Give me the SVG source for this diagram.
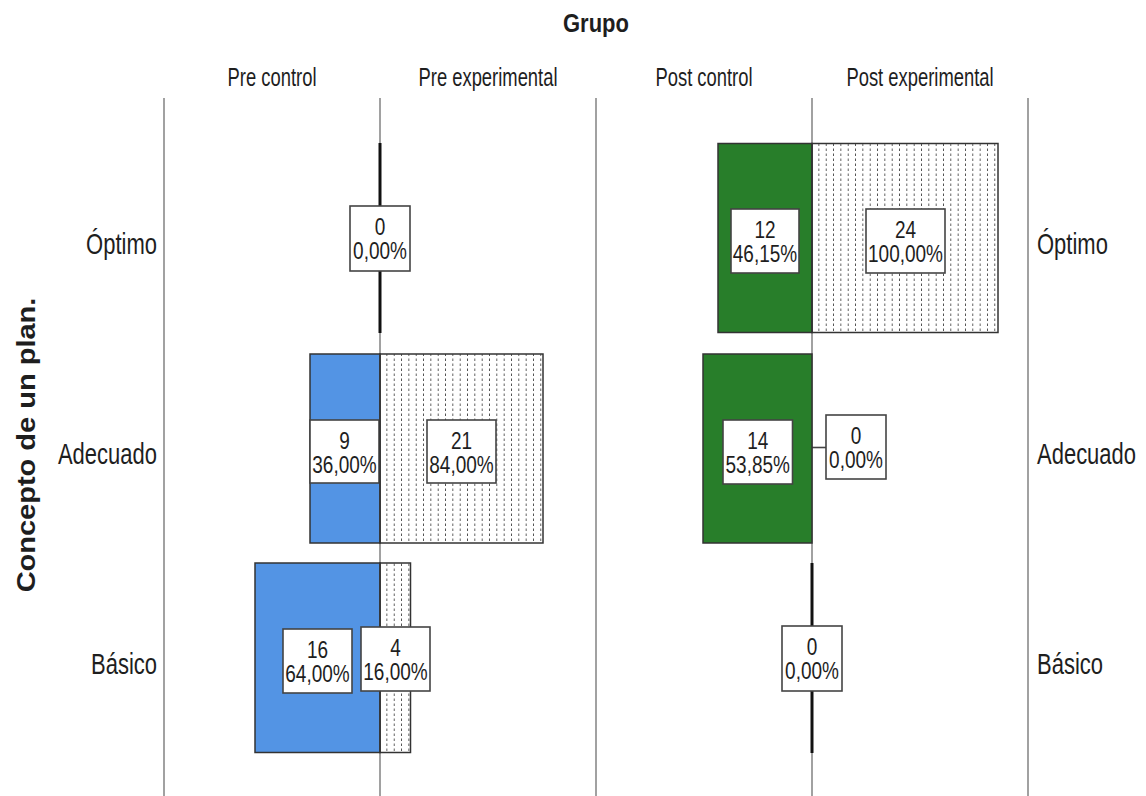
<svg xmlns="http://www.w3.org/2000/svg" width="1146" height="796" viewBox="0 0 1146 796">
<defs>
<pattern id="dotsPre" patternUnits="userSpaceOnUse" x="380" y="143" width="7.33" height="5">
<line x1="7" y1="0.5" x2="7" y2="3" stroke="#4a4a4a" stroke-width="1.1"/>
</pattern>
<pattern id="dotsPost" patternUnits="userSpaceOnUse" x="812" y="143" width="7.33" height="5">
<line x1="7" y1="0.5" x2="7" y2="3" stroke="#4a4a4a" stroke-width="1.1"/>
</pattern>
<style>
.t{font-family:"Liberation Sans",Arial,sans-serif;fill:#1e1e1e}
.n{font-size:19px;text-anchor:middle}
.h{font-size:18.4px;text-anchor:middle}
.r{font-size:22px}
.b{font-weight:bold}
.grid{stroke:#8a8a8a;stroke-width:1.6}
.bar{stroke:#333;stroke-width:1.5}
.blue{fill:#5394E4}
.green{fill:#287E2A}
.box{fill:#fff;stroke:#444;stroke-width:1.6}
.zero{stroke:#111;stroke-width:3}
</style>
</defs>
<rect width="1146" height="796" fill="#fff"/>
<g id="grid">
<line class="grid" x1="164" y1="98" x2="164" y2="796"/>
<line class="grid" x1="380" y1="98" x2="380" y2="796"/>
<line class="grid" x1="596" y1="98" x2="596" y2="796"/>
<line class="grid" x1="812" y1="98" x2="812" y2="796"/>
<line class="grid" x1="1028" y1="98" x2="1028" y2="796"/>
</g>
<g id="titles">
<text class="t b" font-size="22" text-anchor="middle" transform="translate(596,32) scale(1,1.2)">Grupo</text>
<text class="t b" font-size="25" text-anchor="middle" transform="translate(35,445) rotate(-90) scale(1.16,1)">Concepto de un plan.</text>
</g>
<g id="headers">
<text class="t h" transform="translate(272,86) scale(1,1.36)">Pre control</text>
<text class="t h" transform="translate(488,86) scale(1,1.36)">Pre experimental</text>
<text class="t h" transform="translate(704,86) scale(1,1.36)">Post control</text>
<text class="t h" transform="translate(920,86) scale(1,1.36)">Post experimental</text>
</g>
<g id="row-labels">
<text class="t r" text-anchor="end" transform="translate(157,253.5) scale(1,1.33)">Óptimo</text>
<text class="t r" text-anchor="end" transform="translate(157,464) scale(1,1.33)">Adecuado</text>
<text class="t r" text-anchor="end" transform="translate(157,673.5) scale(1,1.33)">Básico</text>
<text class="t r" transform="translate(1037,253.5) scale(1,1.33)">Óptimo</text>
<text class="t r" transform="translate(1037,464) scale(1,1.33)">Adecuado</text>
<text class="t r" transform="translate(1037,673.5) scale(1,1.33)">Básico</text>
</g>
<g id="connectors">
<line class="zero" x1="380" y1="143" x2="380" y2="333"/>
<line class="zero" x1="812" y1="563" x2="812" y2="753"/>
<line x1="812" y1="447.5" x2="826" y2="447.5" stroke="#444" stroke-width="1.6"/>
</g>
<g id="pre-optimo">
<rect class="box" x="350" y="206" width="60" height="65"/>
<text class="t n" transform="translate(380,235) scale(1,1.3)">0</text>
<text class="t n" transform="translate(380,258.5) scale(1,1.3)">0,00%</text>
</g>
<g id="pre-control-adecuado">
<rect class="bar blue" x="310" y="354" width="70" height="189"/>
<rect class="box" x="310" y="420" width="69" height="63"/>
<text class="t n" transform="translate(344.5,449) scale(1,1.3)">9</text>
<text class="t n" transform="translate(344.5,472.5) scale(1,1.3)">36,00%</text>
</g>
<g id="pre-exp-adecuado">
<rect class="bar" fill="url(#dotsPre)" x="380" y="354" width="163" height="189"/>
<rect class="box" x="427" y="420" width="69" height="63"/>
<text class="t n" transform="translate(461.5,449) scale(1,1.3)">21</text>
<text class="t n" transform="translate(461.5,472.5) scale(1,1.3)">84,00%</text>
</g>
<g id="pre-control-basico">
<rect class="bar blue" x="255" y="563" width="125" height="189.5"/>
<rect class="box" x="283" y="629" width="69" height="64"/>
<text class="t n" transform="translate(317.5,658) scale(1,1.3)">16</text>
<text class="t n" transform="translate(317.5,681.5) scale(1,1.3)">64,00%</text>
</g>
<g id="pre-exp-basico">
<rect class="bar" fill="url(#dotsPre)" x="380" y="563" width="30.5" height="189.5"/>
<rect class="box" x="361" y="627" width="69" height="64"/>
<text class="t n" transform="translate(395.5,656) scale(1,1.3)">4</text>
<text class="t n" transform="translate(395.5,679.5) scale(1,1.3)">16,00%</text>
</g>
<g id="post-control-optimo">
<rect class="bar green" x="718" y="143.5" width="94" height="189"/>
<rect class="box" x="731" y="209" width="68" height="64"/>
<text class="t n" transform="translate(765,238) scale(1,1.3)">12</text>
<text class="t n" transform="translate(765,261.5) scale(1,1.3)">46,15%</text>
</g>
<g id="post-exp-optimo">
<rect class="bar" fill="url(#dotsPost)" x="812" y="143.5" width="186" height="189"/>
<rect class="box" x="866" y="209" width="79" height="64"/>
<text class="t n" transform="translate(905.5,238) scale(1,1.3)">24</text>
<text class="t n" transform="translate(905.5,261.5) scale(1,1.3)">100,00%</text>
</g>
<g id="post-control-adecuado">
<rect class="bar green" x="703" y="354" width="109" height="189"/>
<rect class="box" x="723" y="420" width="69.5" height="64"/>
<text class="t n" transform="translate(757.75,449) scale(1,1.3)">14</text>
<text class="t n" transform="translate(757.75,472.5) scale(1,1.3)">53,85%</text>
</g>
<g id="post-exp-adecuado">
<rect class="box" x="826" y="415" width="60" height="64"/>
<text class="t n" transform="translate(856,444) scale(1,1.3)">0</text>
<text class="t n" transform="translate(856,467.5) scale(1,1.3)">0,00%</text>
</g>
<g id="post-basico">
<rect class="box" x="782" y="626" width="60" height="65"/>
<text class="t n" transform="translate(812,655) scale(1,1.3)">0</text>
<text class="t n" transform="translate(812,678.5) scale(1,1.3)">0,00%</text>
</g>
</svg>
